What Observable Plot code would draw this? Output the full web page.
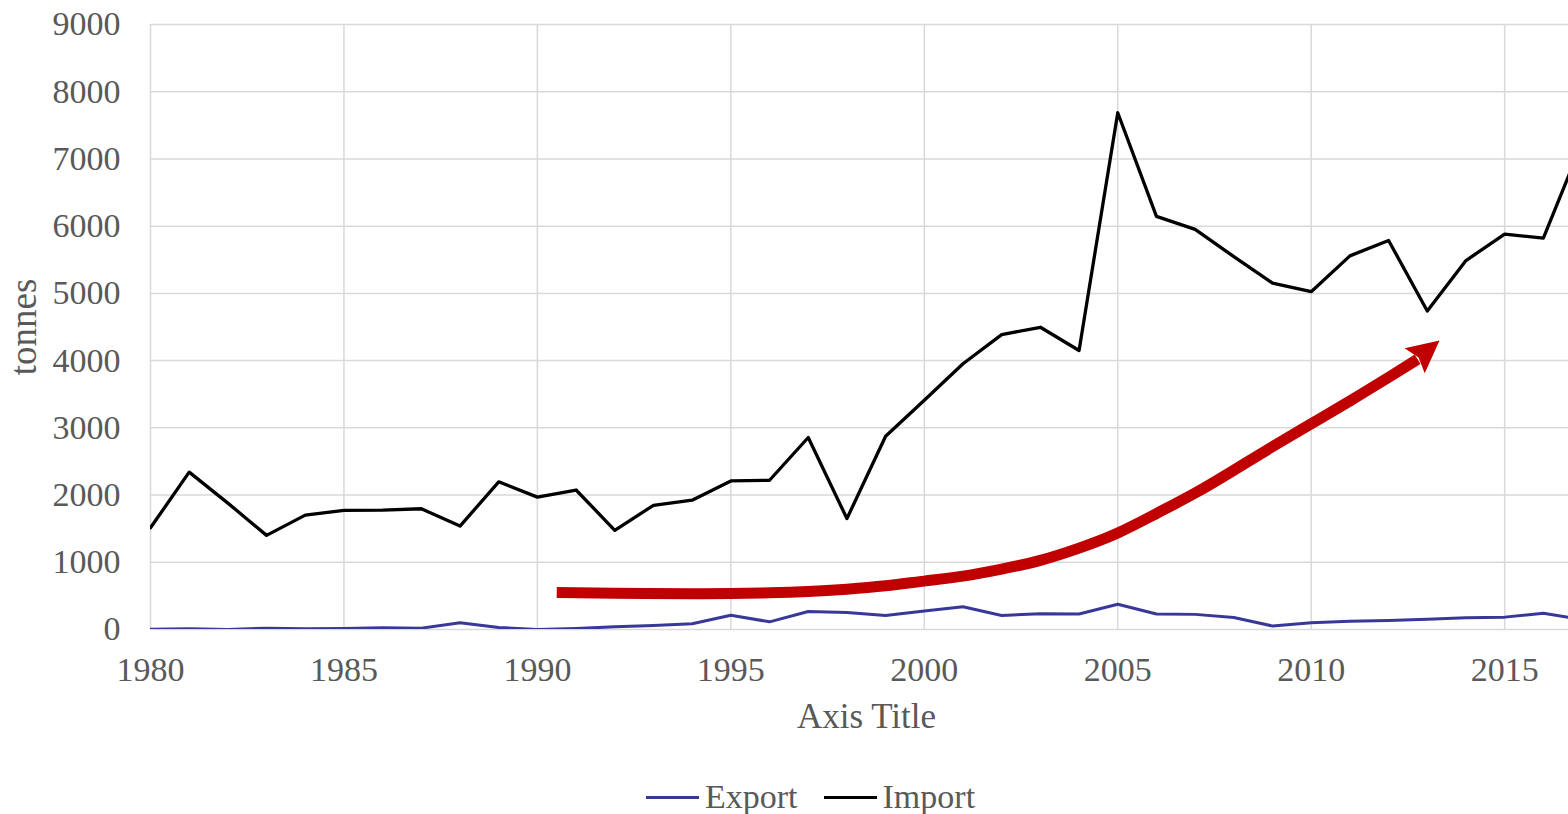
<!DOCTYPE html>
<html>
<head>
<meta charset="utf-8">
<script src="https://cdn.jsdelivr.net/npm/d3@7"></script>
<script src="https://cdn.jsdelivr.net/npm/@observablehq/plot@0.6"></script>
<style>
  html, body { margin: 0; padding: 0; background: #fff; }
  body { width: 1568px; height: 814px; overflow: hidden; position: relative; font-family: "Liberation Serif", serif; color: #595959; }
  #chart { position: absolute; left: 0; top: 0; }
  #legend { position: absolute; left: 646px; top: 777px; height: 40px; display: flex; align-items: center; font-size: 34px; line-height: 40px; }
  .item { display: flex; align-items: center; }
  .swatch { display: inline-block; width: 53px; height: 3px; margin-right: 6px; }
  .gap { width: 26px; }
</style>
</head>
<body>
<div id="chart"></div>
<div id="legend"></div>
<script>
const years = [1980,1981,1982,1983,1984,1985,1986,1987,1988,1989,1990,1991,1992,1993,1994,1995,1996,1997,1998,1999,2000,2001,2002,2003,2004,2005,2006,2007,2008,2009,2010,2011,2012,2013,2014,2015,2016,2017];
const importTonnes = [1513,2341,1880,1400,1701,1771,1776,1796,1538,2197,1969,2075,1476,1848,1923,2210,2220,2856,1650,2875,3410,3953,4386,4496,4151,7687,6146,5953,5546,5154,5025,5558,5787,4739,5489,5881,5821,7240];
const exportTonnes = [5,10,0,20,10,15,25,20,100,30,0,15,40,60,85,213,114,268,253,208,275,339,209,235,230,376,230,225,178,52,99,124,134,154,174,184,243,150];
const trendYears = [1990.5,1992,1994,1995,1996,1997,1998,1999,2000,2001,2002,2003,2004,2005,2006,2007,2008,2009,2010,2011,2012,2012.75];
const trendTonnes = [550,540,533,535,545,565,600,650,720,794,898,1029,1211,1436,1725,2030,2370,2720,3060,3400,3750,4020];
const arrowTip = [2013.33, 4290];
const xTicks = [1980,1985,1990,1995,2000,2005,2010,2015];
const yTicks = [0,1000,2000,3000,4000,5000,6000,7000,8000,9000];
const seriesNames = ["Export","Import"];
const seriesColors = ["#383899","#000000"];

const exportRows = years.map((year, i) => ({year, value: exportTonnes[i]}));
const importRows = years.map((year, i) => ({year, value: importTonnes[i]}));
const trendRows = trendYears.map((year, i) => ({year, value: trendTonnes[i]}));

function arrowHead(index, scales) {
  const n = trendYears.length;
  const x0 = scales.x(trendYears[n - 1]), y0 = scales.y(trendTonnes[n - 1]);
  const x1 = scales.x(arrowTip[0]), y1 = scales.y(arrowTip[1]);
  const dx = x1 - x0, dy = y1 - y0, len = Math.hypot(dx, dy);
  const ux = dx / len, uy = dy / len, px = -uy, py = ux;
  const L = 32, W = 16, N = 27;
  const pts = [
    [x1, y1],
    [x1 - ux * L + px * W, y1 - uy * L + py * W],
    [x1 - ux * N, y1 - uy * N],
    [x1 - ux * L - px * W, y1 - uy * L - py * W]
  ];
  return d3.create("svg:path")
    .attr("d", "M" + pts.map(p => p.join(",")).join("L") + "Z")
    .attr("fill", "#c00000")
    .node();
}

const plot = Plot.plot({
  width: 1568,
  height: 760,
  marginLeft: 150,
  marginRight: 0,
  marginTop: 24,
  marginBottom: 131,
  style: {fontFamily: "'Liberation Serif', serif", fontSize: "34px", color: "#595959", background: "white", overflow: "visible"},
  x: {domain: [1980, 2016.65]},
  y: {domain: [0, 9000]},
  marks: [
    Plot.gridX(xTicks, {stroke: "#d9d9d9", strokeOpacity: 1, strokeWidth: 1.5}),
    Plot.gridY(yTicks, {stroke: "#d9d9d9", strokeOpacity: 1, strokeWidth: 1.5}),
    Plot.axisX(xTicks, {tickSize: 0, tickPadding: 27, tickFormat: d => String(d), label: null, fill: "#595959", fontSize: 34}),
    Plot.axisY(yTicks, {tickSize: 0, tickPadding: 30, tickFormat: d => String(d), label: null, fill: "#595959", fontSize: 34}),
    Plot.text(["tonnes"], {frameAnchor: "left", dx: -126, rotate: -90, textAnchor: "middle", text: d => d, fill: "#595959", fontSize: 37}),
    Plot.text(["Axis Title"], {frameAnchor: "bottom", dy: 98, dx: 7, textAnchor: "middle", text: d => d, fill: "#595959", fontSize: 35}),
    Plot.line(exportRows, {x: "year", y: "value", stroke: seriesColors[0], strokeWidth: 3, clip: true}),
    Plot.line(importRows, {x: "year", y: "value", stroke: seriesColors[1], strokeWidth: 3.3, clip: true}),
    Plot.line(trendRows, {x: "year", y: "value", stroke: "#c00000", strokeWidth: 11, curve: "natural", strokeLinecap: "butt"}),
    arrowHead
  ]
});
document.getElementById("chart").appendChild(plot);

const legend = document.getElementById("legend");
seriesNames.forEach((name, i) => {
  if (i > 0) { const g = document.createElement("span"); g.className = "gap"; legend.appendChild(g); }
  const item = document.createElement("span");
  item.className = "item";
  const sw = document.createElement("span");
  sw.className = "swatch";
  sw.style.background = seriesColors[i];
  item.appendChild(sw);
  item.appendChild(document.createTextNode(name));
  legend.appendChild(item);
});
</script>
</body>
</html>
